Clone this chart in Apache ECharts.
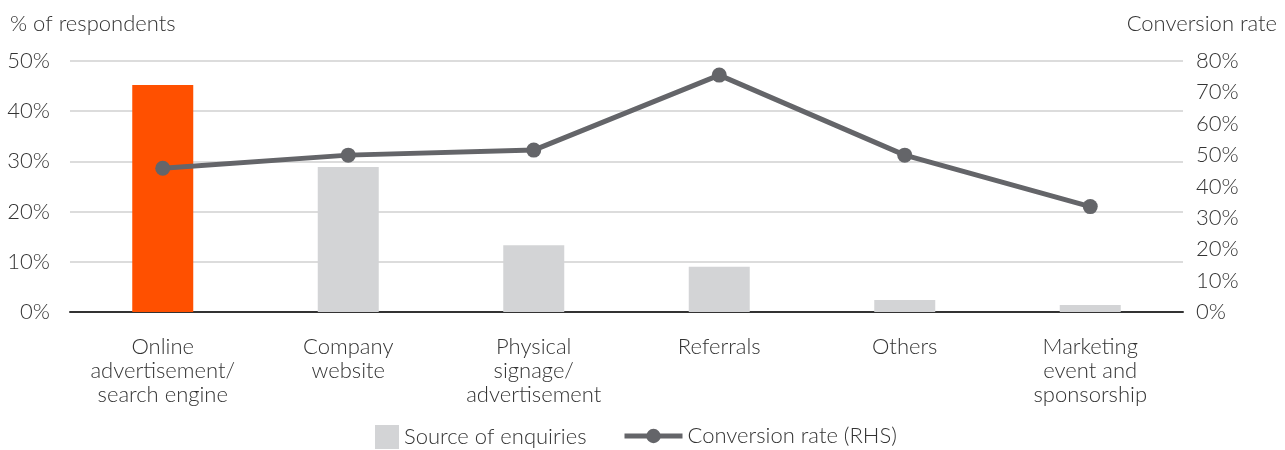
<!DOCTYPE html>
<html>
<head>
<meta charset="utf-8">
<script src="https://cdn.jsdelivr.net/npm/echarts@6/dist/echarts.min.js"></script>
<style>
  html, body { margin: 0; padding: 0; background: #fff; }
  #chart { width: 1285px; height: 450px; }
</style>
</head>
<body>
<div id="chart"></div>
<script>
const categories = [
  'Online\nadvertisement/\nsearch engine',
  'Company\nwebsite',
  'Physical\nsignage/\nadvertisement',
  'Referrals',
  'Others',
  'Marketing\nevent and\nsponsorship'
]
const sourceOfEnquiries = [45.2, 28.9, 13.3, 9.0, 2.4, 1.4]
const conversionRate = [45.8, 50.0, 51.6, 75.5, 50.0, 33.6]
const leftTicks = [0, 10, 20, 30, 40, 50]
const rightTicks = [0, 10, 20, 30, 40, 50, 60, 70, 80]

const FONT = 'Lato'
const FW = 300
const FS = 22
const TEXT = '#333'
const chart = echarts.init(document.getElementById('chart'))

const option = {
  animation: false,
  textStyle: { fontFamily: FONT, fontWeight: FW, color: TEXT },
  title: [
    { text: '% of respondents', left: 5, top: 8,
      textStyle: { fontFamily: FONT, fontWeight: FW, fontSize: FS, color: TEXT } },
    { text: 'Conversion rate', right: 3, top: 8,
      textStyle: { fontFamily: FONT, fontWeight: FW, fontSize: FS, color: TEXT } }
  ],
  grid: { left: 70, right: 102, top: 61, bottom: 138 },
  legend: [
    {
      data: [{ name: 'Source of enquiries', icon: 'rect' }],
      left: 375, top: 425, padding: 0, itemWidth: 24, itemHeight: 24, itemGap: 6,
      textStyle: { fontFamily: FONT, fontWeight: FW, fontSize: FS, color: TEXT }
    },
    {
      data: [{ name: 'Conversion rate (RHS)' }],
      left: 622, top: 425, padding: 0, itemWidth: 58, itemHeight: 18,
      lineStyle: { width: 5 },
      textStyle: { fontFamily: FONT, fontWeight: FW, fontSize: FS, color: TEXT }
    }
  ],
  xAxis: {
    type: 'category',
    data: categories,
    axisTick: { show: false },
    axisLine: { lineStyle: { color: '#333', width: 2 } },
    axisLabel: {
      interval: 0, margin: 23, fontSize: FS, lineHeight: 24,
      fontFamily: FONT, fontWeight: FW, color: TEXT
    }
  },
  yAxis: [
    {
      type: 'value', min: 0, max: 50, interval: 10,
      axisLine: { show: false }, axisTick: { show: false },
      splitLine: { lineStyle: { color: '#dcdcdc', width: 2 } },
      axisLabel: {
        margin: 20, fontSize: FS, fontFamily: FONT, fontWeight: FW, color: TEXT,
        formatter: v => leftTicks.includes(v) ? v + '%' : ''
      }
    },
    {
      type: 'value', min: 0, max: 80, interval: 10,
      axisLine: { show: false }, axisTick: { show: false },
      splitLine: { show: false },
      axisLabel: {
        margin: 13, fontSize: FS, fontFamily: FONT, fontWeight: FW, color: TEXT,
        formatter: v => rightTicks.includes(v) ? v + '%' : ''
      }
    }
  ],
  series: [
    {
      name: 'Source of enquiries',
      type: 'bar',
      barWidth: 61,
      itemStyle: { color: '#d3d4d6' },
      data: sourceOfEnquiries.map((v, i) => i === 0
        ? { value: v, itemStyle: { color: '#ff5000' } }
        : v)
    },
    {
      name: 'Conversion rate (RHS)',
      type: 'line',
      yAxisIndex: 1,
      symbol: 'circle',
      symbolSize: 15,
      itemStyle: { color: '#646569' },
      lineStyle: { color: '#646569', width: 5 },
      data: conversionRate
    }
  ]
}
chart.setOption(option)
</script>
</body>
</html>
